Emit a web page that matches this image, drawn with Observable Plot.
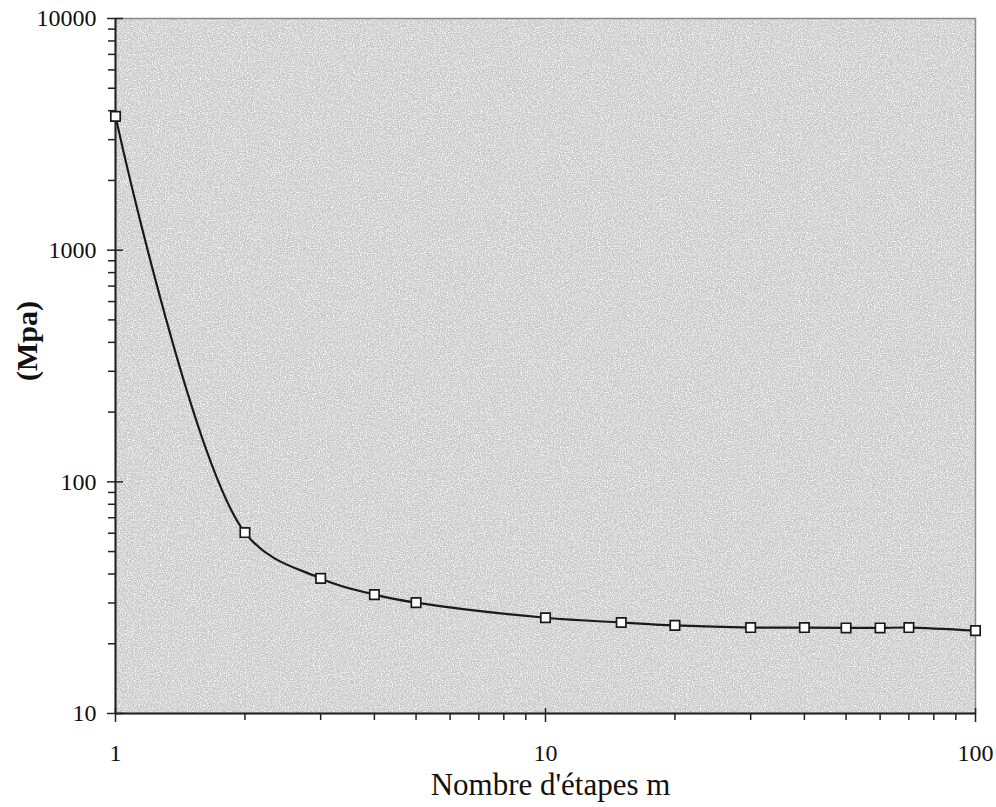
<!DOCTYPE html>
<html>
<head>
<meta charset="utf-8">
<script src="https://cdn.jsdelivr.net/npm/d3@7"></script>
<script src="https://cdn.jsdelivr.net/npm/@observablehq/plot@0.6"></script>
<style>
  html, body { margin: 0; padding: 0; background: #fff; }
  svg { display: block; }
</style>
</head>
<body>
<div id="chart"></div>
<script>
// Data
const steps = [1, 2, 3, 4, 5, 10, 15, 20, 30, 40, 50, 60, 70, 100];
const stress = [3780, 60.4, 38.3, 32.6, 30.1, 25.9, 24.7, 24.0, 23.5, 23.5, 23.4, 23.4, 23.5, 22.8];

const xMajorTicks = [1, 10, 100];
const yMajorTicks = [10, 100, 1000, 10000];
const xMinorTicks = [2, 3, 4, 5, 6, 7, 8, 9, 20, 30, 40, 50, 60, 70, 80, 90];
const yMinorTicks = [20, 30, 40, 50, 60, 70, 80, 90, 200, 300, 400, 500, 600, 700, 800, 900, 2000, 3000, 4000, 5000, 6000, 7000, 8000, 9000];

const xLabel = "Nombre d'étapes m";
const yLabel = "(Mpa)";

const data = steps.map((m, i) => ({m, s: stress[i]}));

const font = "'Liberation Serif', 'Times New Roman', serif";

const chart = Plot.plot({
  width: 996,
  height: 807,
  marginLeft: 115,
  marginRight: 21,
  marginTop: 18,
  marginBottom: 94,
  style: {fontFamily: font, fontSize: "24px", color: "#111", background: "#fff"},
  x: {type: "log", domain: [1, 100], label: null},
  y: {type: "log", domain: [10, 10000], label: null},
  marks: [
    Plot.frame({fill: "#c8c8c8", stroke: "none"}),
    Plot.frame({stroke: "#8a8a8a", strokeWidth: 1.5}),
    // Axis lines
    Plot.ruleX([1], {stroke: "#222", strokeWidth: 2}),
    Plot.ruleY([10], {stroke: "#222", strokeWidth: 2}),
    // Y ticks
    Plot.axisY({anchor: "left", ticks: yMinorTicks, tickSize: 7, tickFormat: () => "", stroke: "#222", strokeWidth: 1.5, label: null}),
    Plot.axisY({anchor: "left", ticks: yMajorTicks, tickSize: 16, dx: 8, tickFormat: () => "", stroke: "#222", strokeWidth: 1.5, label: null}),
    Plot.axisY({anchor: "left", ticks: yMajorTicks, tickSize: 0, tickPadding: 19, tickFormat: d3.format("d"), fontSize: 24, fontFamily: font, fill: "#111", label: null}),
    // X ticks
    Plot.axisX({anchor: "bottom", ticks: xMinorTicks, tickSize: 7, tickFormat: () => "", stroke: "#222", strokeWidth: 1.5, label: null}),
    Plot.axisX({anchor: "bottom", ticks: xMajorTicks, tickSize: 14, dy: -5, tickFormat: () => "", stroke: "#222", strokeWidth: 1.5, label: null}),
    Plot.axisX({anchor: "bottom", ticks: xMajorTicks, tickSize: 0, tickPadding: 30, tickFormat: d3.format("d"), fontSize: 24, fontFamily: font, fill: "#111", label: null}),
    // Axis titles
    Plot.text([xLabel], {frameAnchor: "bottom", dx: 5, dy: 72, fontSize: 31, fontFamily: font, fill: "#111", lineAnchor: "middle"}),
    Plot.text([yLabel], {frameAnchor: "left", dx: -88, dy: 15, rotate: -90, fontSize: 30, fontFamily: font, fontWeight: "bold", fill: "#111", lineAnchor: "middle"}),
    // Data
    Plot.line(data, {x: "m", y: "s", curve: "catmull-rom", stroke: "#1a1a1a", strokeWidth: 2.2}),
    Plot.dot(data, {x: "m", y: "s", symbol: "square", r: 5.3, fill: "#fff", stroke: "#1a1a1a", strokeWidth: 1.7})
  ]
});

// Stippled (scanned-halftone) texture on the plot background
const ns = "http://www.w3.org/2000/svg";
const defs = document.createElementNS(ns, "defs");
defs.innerHTML = `
  <filter id="grain" x="0" y="0" width="100%" height="100%" color-interpolation-filters="sRGB">
    <feTurbulence type="fractalNoise" baseFrequency="0.85" numOctaves="2" seed="7" result="n"/>
    <feColorMatrix in="n" type="matrix" values="0 0 0 0 1  0 0 0 0 1  0 0 0 0 1  0 0 0 -2.2 1.35" result="w"/>
    <feComposite in="w" in2="SourceGraphic" operator="in" result="wc"/>
    <feMerge><feMergeNode in="SourceGraphic"/><feMergeNode in="wc"/></feMerge>
  </filter>`;
chart.insertBefore(defs, chart.firstChild);
const frames = chart.querySelectorAll('[aria-label="frame"]');
if (frames.length) frames[0].setAttribute("filter", "url(#grain)");

document.getElementById("chart").appendChild(chart);
</script>
</body>
</html>
